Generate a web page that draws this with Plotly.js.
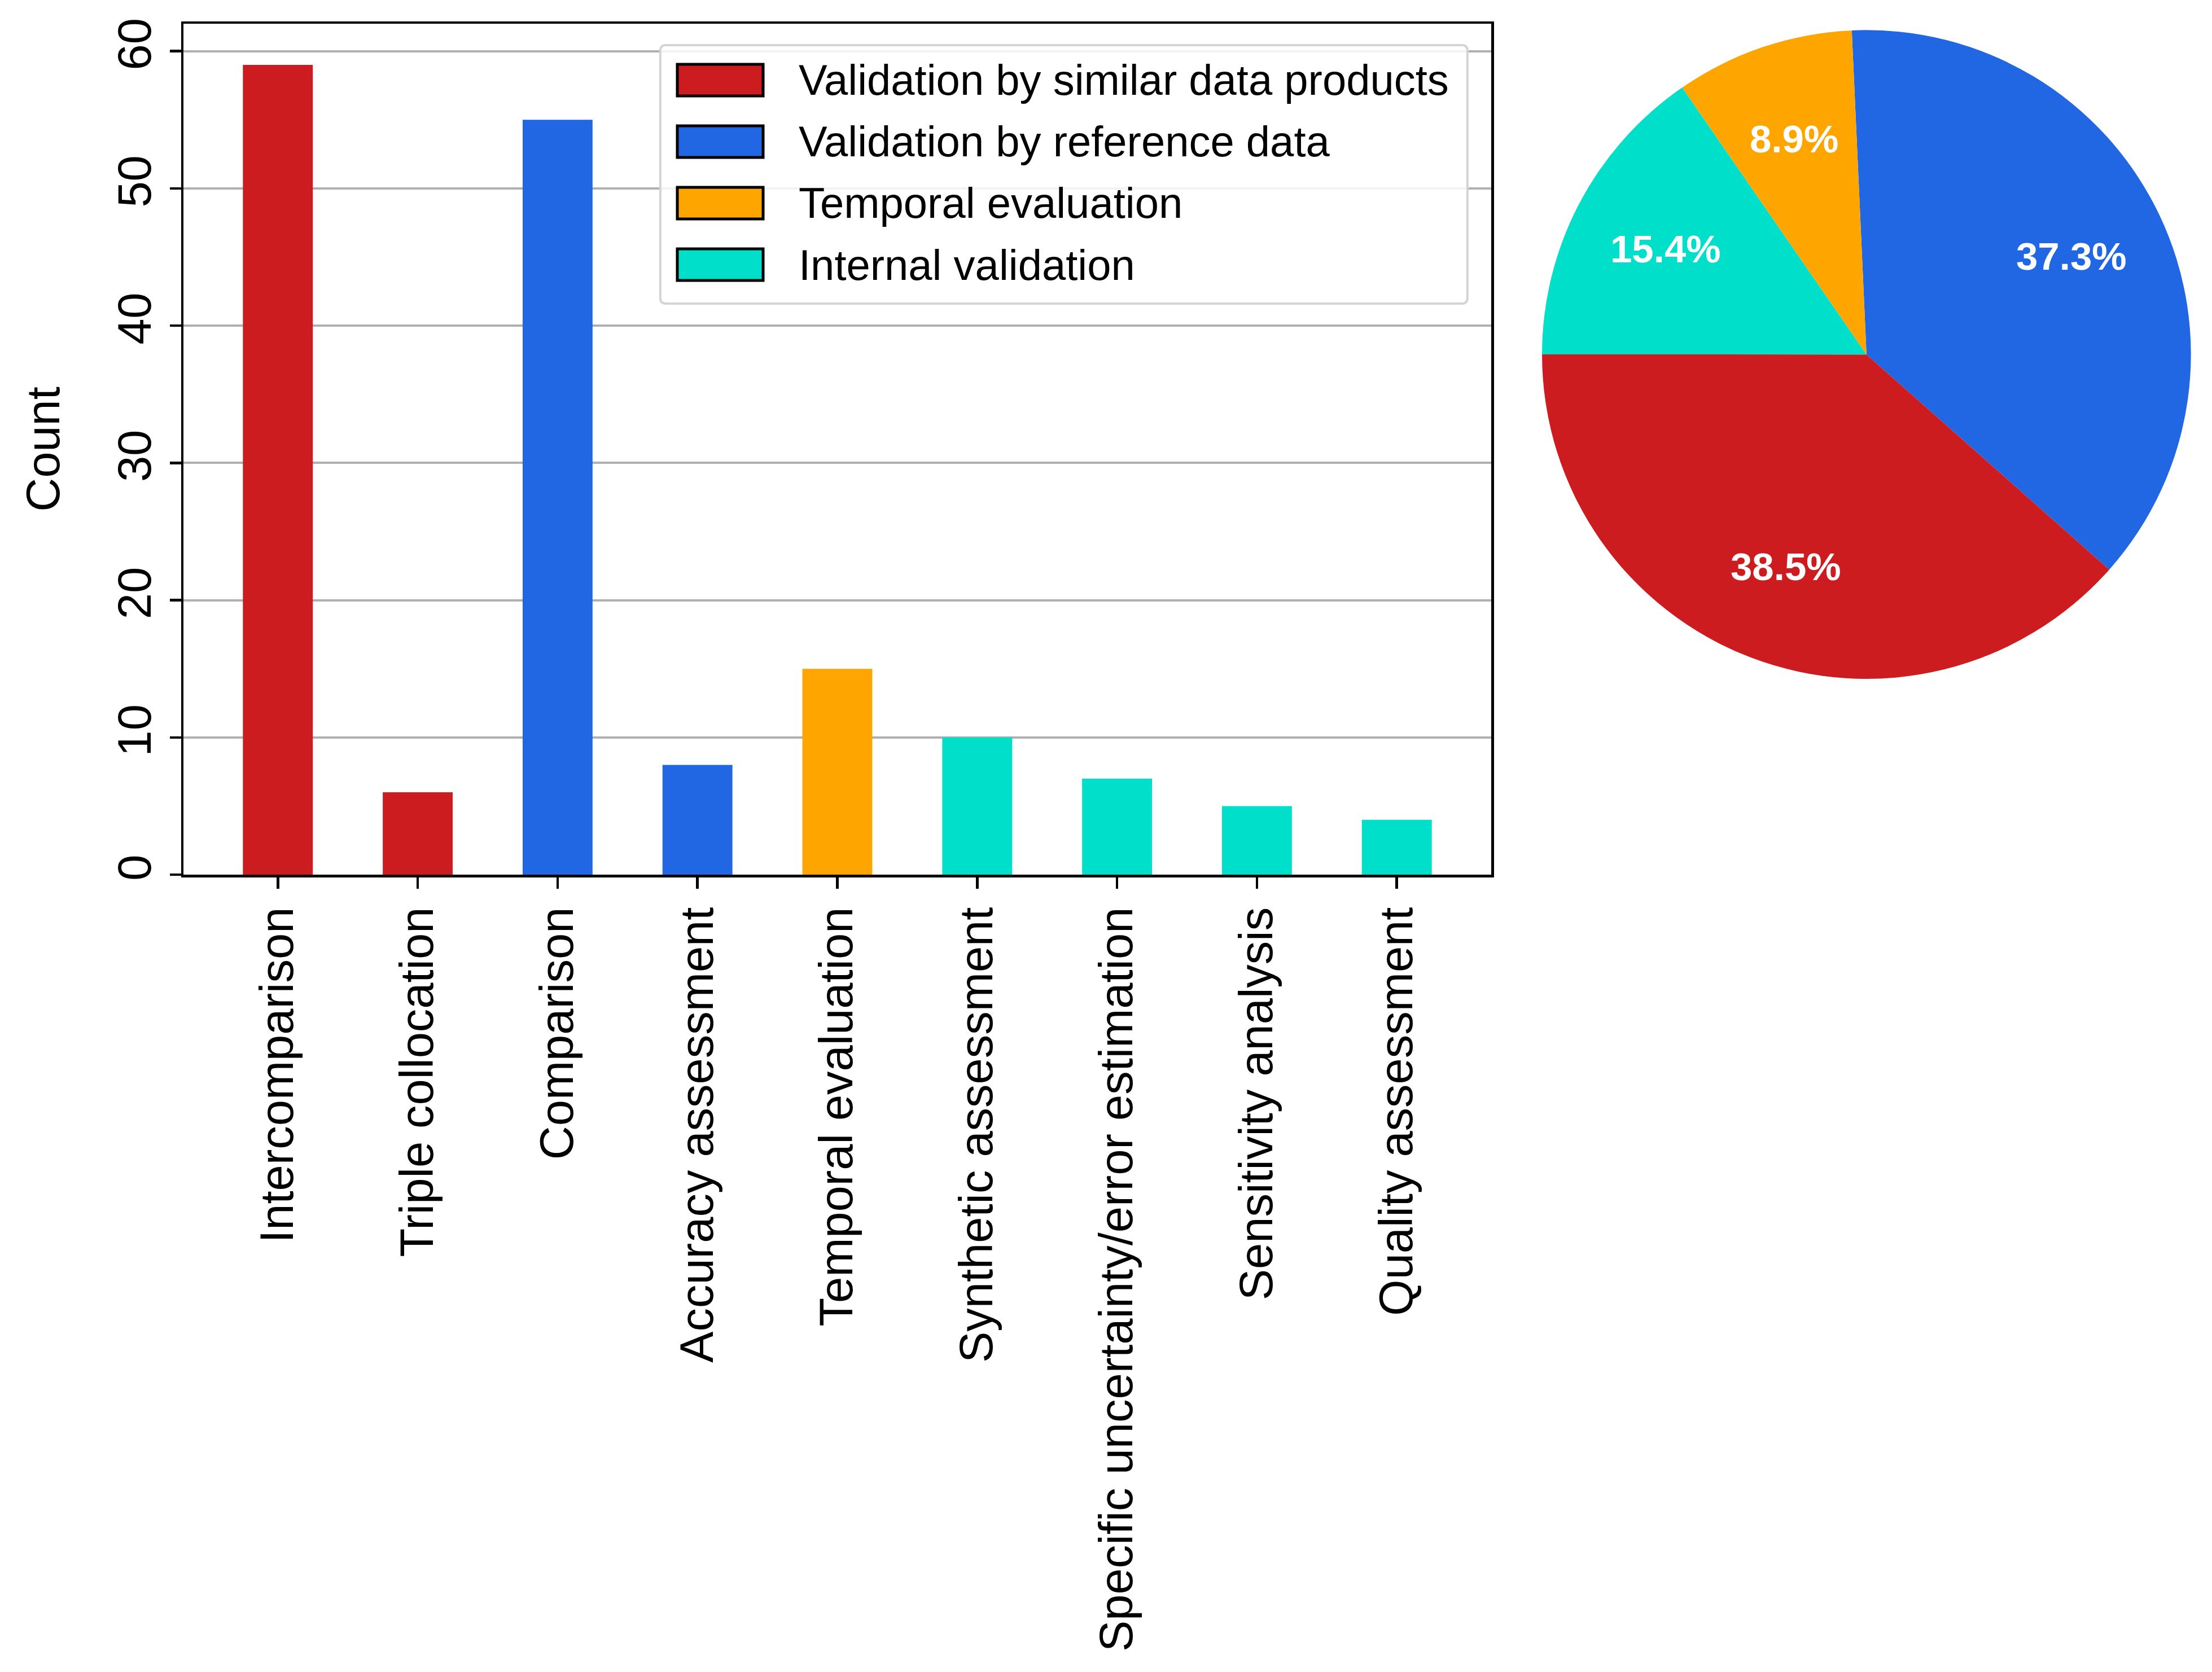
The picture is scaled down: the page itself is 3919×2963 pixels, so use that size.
<!DOCTYPE html>
<html>
<head>
<meta charset="utf-8">
<script src="https://cdn.plot.ly/plotly-3.0.1.min.js"></script>
<style>
  html, body { margin: 0; padding: 0; background: #fff; }
  #chart { width: 3919px; height: 2963px; }
</style>
</head>
<body>
<div id="chart"></div>
<script>
// bar chart data
var categories = ['Intercomparison', 'Triple collocation', 'Comparison', 'Accuracy assessment',
  'Temporal evaluation', 'Synthetic assessment', 'Specific uncertainty/error estimation',
  'Sensitivity analysis', 'Quality assessment'];
var counts = [59, 6, 55, 8, 15, 10, 7, 5, 4];
var categoryGroup = [0, 0, 1, 1, 2, 3, 3, 3, 3];

// groups (legend + pie)
var groupNames = ['Validation by similar data products', 'Validation by reference data',
  'Temporal evaluation', 'Internal validation'];
var groupColors = ['#cd1c1f', '#2166e3', '#ffa500', '#00dfc9'];

// pie shares, clockwise from the top
var pieGroups = [1, 0, 3, 2];
var pieValues = [37.3, 38.5, 15.4, 8.9];

var FONT = 'Liberation Sans, Arial, sans-serif';
var W = 3919, H = 2963;
var pieDomain = {x: [0.697, 0.9906], y: [0.594, 0.982]};
var pieRotation = -2.6;
var pctDistance = 0.7;

// one bar trace per group so each keeps its own colour
var data = [];
for (let g = 0; g < groupNames.length; g++) {
  let xs = [], ys = [];
  for (let i = 0; i < categories.length; i++) {
    if (categoryGroup[i] == g) {
      xs.push(categories[i]);
      ys.push(counts[i]);
    }
  }
  data.push({
    type: 'bar',
    x: xs,
    y: ys,
    width: 0.5,
    name: groupNames[g],
    marker: {color: groupColors[g], line: {width: 0}},
    showlegend: false
  });
}

data.push({
  type: 'pie',
  labels: pieGroups.map(function(g){ return groupNames[g]; }),
  values: pieValues,
  marker: {colors: pieGroups.map(function(g){ return groupColors[g]; }), line: {width: 0}},
  sort: false,
  direction: 'clockwise',
  rotation: pieRotation,
  textinfo: 'none',
  domain: pieDomain,
  showlegend: false,
  hoverinfo: 'label+percent'
});

var shapes = [];
var annotations = [];

// percentage labels on the pie, placed like matplotlib's pctdistance
var pieTotal = pieValues.reduce(function(a, b){ return a + b; }, 0);
var pieCx = (pieDomain.x[0] + pieDomain.x[1]) / 2;
var pieCy = (pieDomain.y[0] + pieDomain.y[1]) / 2;
var pieR = Math.min((pieDomain.x[1] - pieDomain.x[0]) * W, (pieDomain.y[1] - pieDomain.y[0]) * H) / 2;
var angle = pieRotation;
for (let i = 0; i < pieValues.length; i++) {
  let span = pieValues[i] / pieTotal * 360;
  let mid = (angle + span / 2) * Math.PI / 180;
  angle += span;
  annotations.push({
    xref: 'paper', yref: 'paper',
    x: pieCx + pctDistance * pieR * Math.sin(mid) / W,
    y: pieCy + pctDistance * pieR * Math.cos(mid) / H,
    xanchor: 'center', yanchor: 'middle', showarrow: false,
    text: pieValues[i].toFixed(1) + '%',
    font: {family: FONT, size: 69, color: '#ffffff', weight: 'bold'}
  });
}

// hand drawn legend box, matplotlib style
var box = {x0: 0.2985, x1: 0.6634, y0: 1 - 538 / H, y1: 1 - 80 / H};
var rx = 10 / W, ry = 10 / H;
shapes.push({
  type: 'path', xref: 'paper', yref: 'paper',
  path: 'M' + (box.x0 + rx) + ',' + box.y1 +
        ' L' + (box.x1 - rx) + ',' + box.y1 +
        ' Q' + box.x1 + ',' + box.y1 + ' ' + box.x1 + ',' + (box.y1 - ry) +
        ' L' + box.x1 + ',' + (box.y0 + ry) +
        ' Q' + box.x1 + ',' + box.y0 + ' ' + (box.x1 - rx) + ',' + box.y0 +
        ' L' + (box.x0 + rx) + ',' + box.y0 +
        ' Q' + box.x0 + ',' + box.y0 + ' ' + box.x0 + ',' + (box.y0 + ry) +
        ' L' + box.x0 + ',' + (box.y1 - ry) +
        ' Q' + box.x0 + ',' + box.y1 + ' ' + (box.x0 + rx) + ',' + box.y1 + ' Z',
  fillcolor: 'rgba(255,255,255,0.85)',
  line: {color: '#d4d4d4', width: 4},
  layer: 'above'
});
var rowTop = 142, rowStep = 109;
for (let g = 0; g < groupNames.length; g++) {
  let yc = 1 - (rowTop + g * rowStep) / H;
  shapes.push({
    type: 'rect', xref: 'paper', yref: 'paper',
    x0: 1200 / W, x1: 1352 / W, y0: yc - 28 / H, y1: yc + 28 / H,
    fillcolor: groupColors[g],
    line: {color: '#000000', width: 5},
    layer: 'above'
  });
  annotations.push({
    xref: 'paper', yref: 'paper', x: 1413 / W, y: yc,
    xanchor: 'left', yanchor: 'middle', showarrow: false,
    text: groupNames[g],
    font: {family: FONT, size: 76, color: '#000000'}
  });
}

var layout = {
  width: W,
  height: H,
  margin: {l: 0, r: 0, t: 0, b: 0},
  paper_bgcolor: '#ffffff',
  plot_bgcolor: '#ffffff',
  font: {family: FONT, size: 83, color: '#000000'},
  barmode: 'overlay',
  showlegend: false,
  xaxis: {
    domain: [325 / W, 2642 / W],
    type: 'category',
    categoryorder: 'array',
    categoryarray: categories,
    range: [-0.675, 8.675],
    tickangle: -90,
    ticks: 'outside',
    ticklen: 20,
    tickwidth: 4.5,
    tickcolor: '#000',
    showline: true,
    linecolor: '#000',
    linewidth: 4.5,
    mirror: true,
    showgrid: false,
    zeroline: false,
    tickfont: {family: FONT, size: 83, color: '#000'}
  },
  yaxis: {
    domain: [1 - 1550 / H, 1 - 42 / H],
    range: [0, 62],
    dtick: 10,
    tick0: 0,
    tickangle: -90,
    ticks: 'outside',
    ticklen: 20,
    tickwidth: 4.5,
    tickcolor: '#000',
    showline: true,
    linecolor: '#000',
    linewidth: 4.5,
    mirror: true,
    showgrid: true,
    gridcolor: '#b0b0b0',
    gridwidth: 4,
    zeroline: false,
    tickfont: {family: FONT, size: 83, color: '#000'},
    title: {text: 'Count', font: {family: FONT, size: 83, color: '#000'}, standoff: 60}
  },
  shapes: shapes,
  annotations: annotations
};

Plotly.newPlot('chart', data, layout, {displayModeBar: false, staticPlot: true});
</script>
</body>
</html>
